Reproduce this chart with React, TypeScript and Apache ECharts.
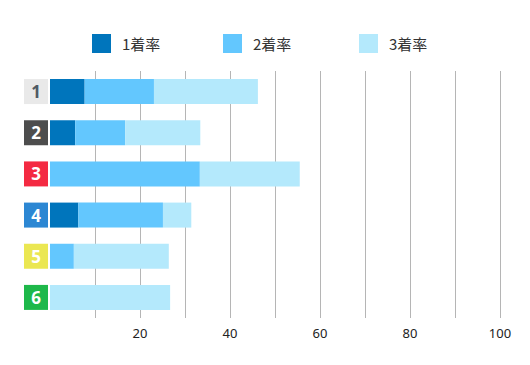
import React, { useEffect, useRef } from "react";
import * as echarts from "echarts";

const categories = ["1", "2", "3", "4", "5", "6"];
const seriesNames = ["1着率", "2着率", "3着率"];
const first = [7.7, 5.6, 0, 6.3, 0, 0];
const second = [15.4, 11.1, 33.3, 18.8, 5.3, 0];
const third = [23.1, 16.7, 22.2, 6.3, 21.1, 26.7];
const xTicks = [20, 40, 60, 80, 100];

const seriesColors = ["#0075bc", "#63c7fe", "#b4e9fc"];
const boxBg = ["#e9e9e9", "#4d4d4d", "#f42a42", "#2c87d3", "#ebe752", "#1eb84a"];
const boxFg = ["#505a64", "#ffffff", "#ffffff", "#ffffff", "#ffffff", "#ffffff"];
const legendLefts = [92, 223, 359];

export default function App() {
  const ref = useRef<HTMLDivElement>(null);
  useEffect(() => {
    if (!ref.current) return;
    const chart = echarts.init(ref.current, null, { renderer: "svg" });
    const rich: Record<string, any> = {};
    categories.forEach((c, i) => {
      rich["b" + i] = {
        backgroundColor: boxBg[i],
        color: boxFg[i],
        width: 24,
        height: 25,
        lineHeight: 25,
        align: "center",
        fontSize: 17,
        fontWeight: "bold",
        fontFamily: "Noto Sans",
      };
    });
    const data = [first, second, third];
    chart.setOption({
      animation: false,
      legend: seriesNames.map((name, k) => ({
        left: legendLefts[k],
        top: 34,
        padding: 0,
        itemWidth: 19,
        itemHeight: 19,
        icon: "rect",
        textStyle: {
          fontSize: 15,
          color: "#333",
          fontFamily: "Noto Sans CJK JP",
          padding: [0, 0, 0, 6],
        },
        data: [name],
      })),
      grid: { left: 50, right: 30, top: 71, bottom: 47, containLabel: false },
      xAxis: {
        type: "value",
        min: 0,
        max: 100,
        interval: 10,
        axisLine: { show: false },
        axisTick: { show: false },
        splitLine: { show: true, showMinLine: false, lineStyle: { color: "#b5b5b5", width: 1 } },
        axisLabel: {
          margin: 8,
          color: "#222",
          fontSize: 13,
          fontFamily: "Noto Sans",
          formatter: (v: number) => (xTicks.includes(v) ? String(v) : ""),
        },
      },
      yAxis: {
        type: "category",
        inverse: true,
        data: categories,
        axisLine: { show: false },
        axisTick: { show: false },
        axisLabel: {
          margin: 2,
          formatter: (v: string) => {
            const i = categories.indexOf(v);
            return `{b${i}|${v}}`;
          },
          rich,
        },
      },
      series: seriesNames.map((name, k) => ({
        name,
        type: "bar",
        stack: "total",
        barWidth: 25,
        itemStyle: { color: seriesColors[k] },
        data: data[k],
      })),
    });
    return () => chart.dispose();
  }, []);
  return <div ref={ref} style={{ width: 530, height: 365, position: "absolute", left: 0, top: 0 }} />;
}
